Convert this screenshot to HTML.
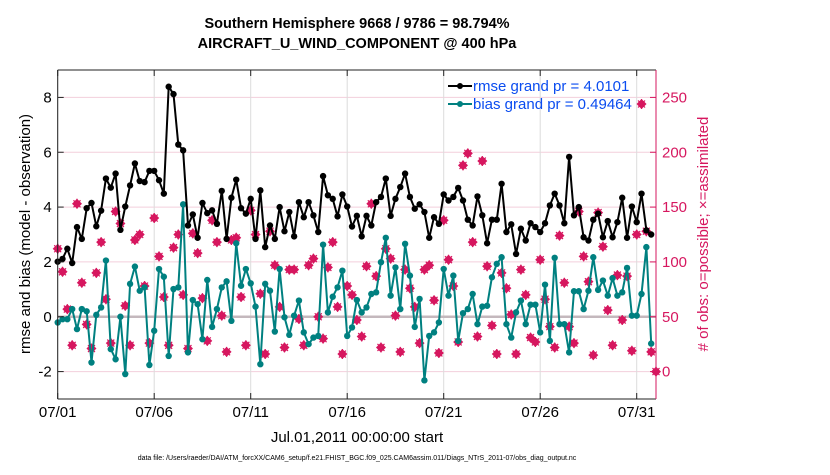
<!DOCTYPE html>
<html><head><meta charset="utf-8"><style>
body{margin:0;background:#fff}
svg text{font-family:"Liberation Sans",sans-serif}
</style></head><body>
<svg id="chart" width="830" height="470" viewBox="0 0 830 470" xmlns="http://www.w3.org/2000/svg">
<rect width="830" height="470" fill="#fff"/>
<g id="grid"></g><g id="marks"></g><g id="axes"></g>
<text x="357" y="28" text-anchor="middle" font-size="14.5" font-weight="bold">Southern Hemisphere 9668 / 9786 = 98.794%</text>
<text x="357" y="48" text-anchor="middle" font-size="14.5" font-weight="bold">AIRCRAFT_U_WIND_COMPONENT @ 400 hPa</text>
<text x="357" y="442" text-anchor="middle" font-size="15">Jul.01,2011 00:00:00 start</text>
<text transform="translate(30,234) rotate(-90)" text-anchor="middle" font-size="15">rmse and bias (model - observation)</text>
<text transform="translate(708,234) rotate(-90)" text-anchor="middle" font-size="15" fill="#d6175f"># of obs: o=possible; ×=assimilated</text>
<text x="357" y="460" text-anchor="middle" font-size="7">data file: /Users/raeder/DAI/ATM_forcXX/CAM6_setup/f.e21.FHIST_BGC.f09_025.CAM6assim.011/Diags_NTrS_2011-07/obs_diag_output.nc</text>
<g>
<line x1="448" y1="86" x2="472" y2="86" stroke="#000" stroke-width="2"/><circle cx="460" cy="86" r="3" fill="#000"/>
<text x="473" y="91" font-size="15" fill="#0a4cf0">rmse grand pr = 4.0101</text>
<line x1="448" y1="104" x2="472" y2="104" stroke="#008080" stroke-width="2"/><circle cx="460" cy="104" r="3" fill="#008080"/>
<text x="473" y="109" font-size="15" fill="#0a4cf0">bias grand pr = 0.49464</text>
</g>
</svg>
<script>
const rmse=[2.01,2.11,2.48,1.96,3.27,2.84,3.96,4.15,3.30,3.87,5.04,4.71,5.22,3.17,4.02,4.79,5.59,4.95,4.91,5.32,5.32,4.98,4.49,8.39,8.12,6.28,6.07,3.33,3.73,2.88,4.15,3.78,3.88,3.39,4.59,2.84,4.34,5.0,3.96,3.76,4.30,2.84,4.61,
2.54,3.33,2.84,4.0,3.12,3.82,2.93,4.18,3.63,4.18,3.70,3.09,5.13,4.43,4.30,3.66,4.46,4.02,3.29,3.68,2.93,3.68,3.33,4.18,4.37,5.04,3.68,4.30,4.73,5.22,4.37,3.94,4.10,3.82,2.88,3.63,3.39,4.46,4.24,
4.37,4.70,4.24,3.54,3.33,4.39,3.70,2.68,3.54,3.54,4.85,3.09,3.37,2.29,3.21,2.78,3.41,3.27,3.09,3.41,4.06,4.49,4.06,3.41,5.83,3.70,4.0,2.90,2.78,3.54,3.76,2.90,3.49,2.90,3.45,4.34,2.88,4.02,3.45,4.49,3.15,3.0];
const bias=[-0.21,-0.09,-0.09,0.28,-0.45,0.28,0.20,-1.67,0.07,0.34,2.05,-1.18,-1.55,0,-2.09,1.20,1.83,0.95,1.07,-1.76,-0.51,1.74,1.46,-1.43,1.01,1.07,4.10,-1.30,0.61,0.46,-0.82,1.34,-0.37,0.28,1.07,1.29,-0.15,2.68,1.13,1.74,1.22,0.37,-1.73,
1.20,0.95,-0.54,1.74,-0.02,-0.66,0.04,0.59,-0.57,-1.0,-0.76,-0.70,2.63,0.16,0.73,1.07,1.68,-0.70,-0.39,0.61,0.16,0.34,0.83,0.89,1.99,2.88,0.77,1.80,0.28,2.66,1.50,-0.37,0.65,-2.32,-0.70,-0.57,-0.21,1.74,0.77,
1.50,-0.88,0.13,0.28,0.83,-0.27,0.37,0.40,1.44,1.93,2.17,-0.27,-0.76,0.16,0.59,-0.27,0.44,0.44,-0.57,1.17,-0.88,2.15,-0.27,-0.27,-1.30,0.93,0.93,0.28,0.95,2.17,0.98,1.32,0.77,1.41,0.77,0.89,1.78,0.04,0.04,0.83,2.54,-0.98];
const nobs=[112,91,57,24,153,81,43,21,90,118,66,26,146,135,60,24,120,125,78,26,140,105,68,24,113,125,70,21,126,108,67,28,138,118,51,18,120,122,68,24,147,125,71,
16,128,97,59,22,93,93,48,24,97,103,50,30,95,118,59,16,78,70,47,32,96,153,87,22,112,103,51,18,93,76,59,26,93,97,65,17,138,102,
78,27,188,199,118,32,192,96,42,16,90,76,52,16,93,70,31,27,102,66,41,22,124,81,41,26,146,105,82,15,145,114,56,24,88,47,87,19,125,244,128,18,0];
const xTickLabels=["07/01","07/06","07/11","07/16","07/21","07/26","07/31"];
const xTickDays=[0,5,10,15,20,25,30];
const yTicks=[-2,0,2,4,6,8];
const y2Ticks=[0,50,100,150,200,250];
const stepDays=0.25;

const L=57.7,R=656,T=70,B=399;
const X=d=>L+(d/31)*(R-L);
const Y=v=>B-(v+3)/12*(B-T);
function Yr(n){return Y(-2)-(n/250)*(Y(-2)-Y(8));}
const NS="http://www.w3.org/2000/svg";
function mk(p,t,a){const e=document.createElementNS(NS,t);for(const k in a)e.setAttribute(k,a[k]);p.appendChild(e);return e;}
const grid=document.getElementById('grid'),marks=document.getElementById('marks'),axes=document.getElementById('axes');
const crim="#d6175f";
yTicks.forEach(v=>{const l=mk(grid,'line',{x1:L,x2:R,y1:Y(v),y2:Y(v),stroke:'#f3cfdc','stroke-width':1});

});
xTickDays.forEach(d=>{const l=mk(grid,'line',{x1:X(d),x2:X(d),y1:T,y2:B,stroke:'#dcdcdc','stroke-width':1});

});
const z=mk(grid,'line',{x1:L,x2:R,y1:Y(0),y2:Y(0),stroke:'#c4b8bd','stroke-width':2.5});


nobs.forEach((n,i)=>{const g=mk(marks,'g',{});


const cx=X(i*stepDays),cy=Yr(n);
mk(g,'path',{d:`M${cx} ${cy-5}L${cx+5} ${cy}L${cx} ${cy+5}L${cx-5} ${cy}Z`,fill:crim});
mk(g,'path',{d:`M${cx-3.5} ${cy-3.5}L${cx+3.5} ${cy+3.5}M${cx+3.5} ${cy-3.5}L${cx-3.5} ${cy+3.5}M${cx} ${cy-5}L${cx} ${cy+5}`,stroke:crim,'stroke-width':1.2});});
function series(arr,col,name){
const pts=arr.map((v,i)=>X(i*stepDays).toFixed(1)+','+Y(v).toFixed(1)).join(' ');
const pl=mk(marks,'polyline',{points:pts,fill:'none',stroke:col,'stroke-width':2,'stroke-linejoin':'round'});


arr.forEach((v,i)=>{const c=mk(marks,'circle',{cx:X(i*stepDays),cy:Y(v),r:3.2,fill:col});

});}
series(bias,'#008080','bias');
series(rmse,'#000','rmse');
mk(axes,'line',{x1:L,x2:R,y1:T,y2:T,stroke:'#222','stroke-width':1});
mk(axes,'line',{x1:L,x2:R,y1:B,y2:B,stroke:'#222','stroke-width':1});
mk(axes,'line',{x1:L,x2:L,y1:T,y2:B,stroke:'#222','stroke-width':1});
mk(axes,'line',{x1:R,x2:R,y1:T,y2:B,stroke:crim,'stroke-width':1});
yTicks.forEach(v=>{mk(axes,'line',{x1:L,x2:L+6,y1:Y(v),y2:Y(v),stroke:'#222'});
const t=mk(axes,'text',{x:L-6,y:Y(v)+5,'text-anchor':'end','font-size':15});t.textContent=v;

});
y2Ticks.forEach(n=>{mk(axes,'line',{x1:R-6,x2:R,y1:Yr(n),y2:Yr(n),stroke:crim});
const t=mk(axes,'text',{x:R+6,y:Yr(n)+5,'font-size':15,fill:crim});t.textContent=n;

});
xTickDays.forEach((d,i)=>{mk(axes,'line',{x1:X(d),x2:X(d),y1:B,y2:B-6,stroke:'#222'});mk(axes,'line',{x1:X(d),x2:X(d),y1:T,y2:T+6,stroke:'#222'});
const t=mk(axes,'text',{x:X(d),y:417,'text-anchor':'middle','font-size':15});t.textContent=xTickLabels[i];

});
</script>
</body></html>
